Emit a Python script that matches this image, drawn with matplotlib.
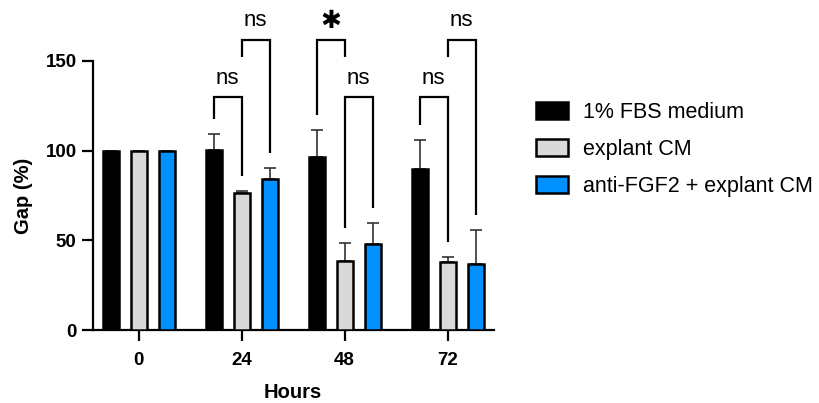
import matplotlib
matplotlib.use("Agg")
import matplotlib.pyplot as plt
import numpy as np
from matplotlib.patches import Patch

plt.rcParams['font.family'] = ['Liberation Sans', 'DejaVu Sans']

# data
hours = ['0', '24', '48', '72']
series = ['1% FBS medium', 'explant CM', 'anti-FGF2 + explant CM']
colors = ['#000000', '#d9d9d9', '#0091ff']
fbs = [100, 100.2, 96.3, 90.0]
fbs_err = [0, 9.3, 15.1, 16.0]
cm = [100, 76.6, 38.7, 37.9]
cm_err = [0, 1.1, 9.8, 3.0]
anti = [100, 84.0, 48.0, 36.6]
anti_err = [0, 6.3, 11.5, 19.2]

# comparisons: (group, bar a, bar b, label, level)
comp_group = [1, 1, 2, 2, 3, 3]
comp_a = [0, 1, 0, 1, 0, 1]
comp_b = [1, 2, 1, 2, 1, 2]
comp_label = ['ns', 'ns', '*', 'ns', 'ns', 'ns']
comp_level = [0, 1, 1, 0, 0, 1]

means = [fbs, cm, anti]
errs = [fbs_err, cm_err, anti_err]

fig = plt.figure(figsize=(8.19, 4.03), dpi=100)
ax = fig.add_axes([0.113, 0.181, 0.49, 0.668])

x = np.arange(len(hours))
offs = [-0.272, 0, 0.272]
width = 0.155
for k in range(3):
    ax.bar(x + offs[k], means[k], width, color=colors[k], edgecolor='black',
           linewidth=1.8, label=series[k], zorder=3)
    e = np.array(errs[k])
    ax.errorbar(x + offs[k], means[k], yerr=[np.zeros_like(e), e], fmt='none',
                ecolor='#333333', elinewidth=1.2, capsize=4, capthick=1.2, zorder=2)

# significance brackets
levels = [129.6, 161.7]
gap = 8.3
for i in range(len(comp_group)):
    g = comp_group[i]
    top = levels[comp_level[i]]
    legs = []
    for b in (comp_a[i], comp_b[i]):
        short = False
        for j in range(len(comp_group)):
            if j != i and comp_group[j] == g and comp_level[j] < comp_level[i] \
                    and b in (comp_a[j], comp_b[j]):
                short = True
        if short:
            legs.append(top - 9.3)
        else:
            legs.append(means[b][g] + errs[b][g] + gap)
    xa = g + offs[comp_a[i]]
    xb = g + offs[comp_b[i]]
    ax.plot([xa, xa, xb, xb], [legs[0], top, top, legs[1]], color='black',
            lw=1.6, clip_on=False, solid_capstyle='butt', solid_joinstyle='miter')
    if comp_label[i] == '*':
        ax.text((xa + xb) / 2, top + 10.5, '\u2731', ha='center', va='center',
                fontsize=18, family='DejaVu Sans', clip_on=False)
    else:
        ax.text((xa + xb) / 2, top + 7.5, comp_label[i], ha='center',
                va='baseline', fontsize=16, clip_on=False)

ax.set_xlim(-0.45, 3.45)
ax.set_ylim(0, 150)
ax.set_yticks([0, 50, 100, 150])
ax.set_xticks(x)
ax.set_xticklabels(hours)
for s in ['top', 'right']:
    ax.spines[s].set_visible(False)
for s in ['left', 'bottom']:
    ax.spines[s].set_linewidth(1.6)
ax.tick_params(axis='both', width=1.6, length=8, labelsize=13.5)
ax.tick_params(axis='y', pad=3.5)
ax.tick_params(axis='x', pad=8)
for lab in ax.get_xticklabels() + ax.get_yticklabels():
    lab.set_fontweight('bold')
ax.set_xlabel('Hours', fontsize=14.5, fontweight='bold', labelpad=10)
ax.set_ylabel('Gap (%)', fontsize=14.5, fontweight='bold', labelpad=9)

handles = [Patch(facecolor=colors[k], edgecolor='black', linewidth=1.8) for k in range(3)]
fig.legend(handles, series, loc='center left', bbox_to_anchor=(0.655, 0.629),
           frameon=False, fontsize=15.5, handlelength=1.45, handleheight=0.8,
           handletextpad=0.7, labelspacing=0.75, borderpad=0, borderaxespad=0)

fig.savefig('out.png', dpi=100)
